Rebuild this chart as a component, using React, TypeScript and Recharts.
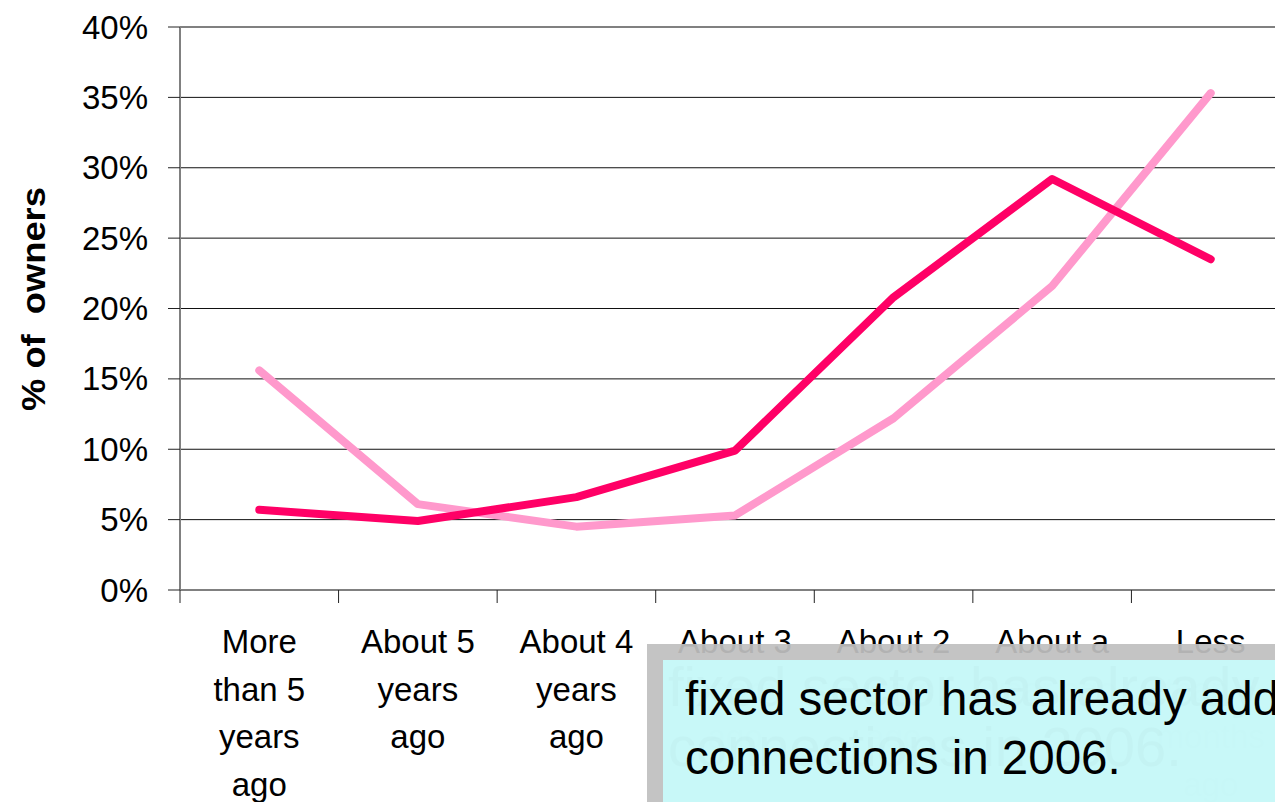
import { CartesianGrid, Line, LineChart, ReferenceLine, XAxis, YAxis } from "recharts";

const categories = [
  ["More", "than 5", "years", "ago"],
  ["About 5", "years", "ago"],
  ["About 4", "years", "ago"],
  ["About 3", "years", "ago"],
  ["About 2", "years", "ago"],
  ["About a", "year ago"],
  ["Less", "than 6", "months", "ago"]
];

const seriesA = [5.7, 4.9, 6.6, 9.9, 20.8, 29.2, 23.5];
const seriesB = [15.6, 6.1, 4.5, 5.3, 12.2, 21.6, 35.3];

const yTicks = [0, 5, 10, 15, 20, 25, 30, 35, 40];
const xBounds = [0, 1, 2, 3, 4, 5, 6, 7];

const data = categories.map((c, i) => ({
  pos: i + 0.5,
  a: seriesA[i],
  b: seriesB[i]
}));

const FONT = "'Liberation Sans', Arial, sans-serif";
const STEP = (1290 - 180) / 7;

const XTick = (props: any) => {
  const { x, y, payload } = props;
  const lines = categories[payload.value];
  if (!lines) return <g />;
  return (
    <text
      x={x + STEP / 2}
      y={y + 48}
      textAnchor="middle"
      fontFamily={FONT}
      fontSize={33}
      fill="#000"
    >
      {lines.map((l, i) => (
        <tspan key={i} x={x + STEP / 2} dy={i === 0 ? 0 : 47.5}>
          {l}
        </tspan>
      ))}
    </text>
  );
};

const YTick = (props: any) => {
  const { x, y, payload } = props;
  return (
    <text
      x={x}
      y={y}
      textAnchor="end"
      dominantBaseline="central"
      fontFamily={FONT}
      fontSize={33}
      fill="#000"
    >
      {payload.value}%
    </text>
  );
};

export default function App() {
  return (
    <div style={{ position: "absolute", left: 0, top: 0, width: 1275, height: 802, overflow: "hidden", background: "#fff" }}>
      <LineChart width={1300} height={802} data={data} margin={{ top: 27, right: 10, bottom: 0, left: 0 }}>
        <CartesianGrid vertical={false} stroke="#111" strokeWidth={1} />
        <ReferenceLine y={40} stroke="#808080" strokeWidth={2} />
        <XAxis
          dataKey="pos"
          type="number"
          domain={[0, 7]}
          ticks={xBounds}
          tick={<XTick />}
          tickSize={13}
          height={212}
          interval={0}
          stroke="#808080"
          strokeWidth={2}
          tickLine={{ stroke: "#222", strokeWidth: 1 }}
        />
        <YAxis
          domain={[0, 40]}
          ticks={yTicks}
          tick={<YTick />}
          tickSize={12}
          tickMargin={20}
          width={180}
          interval={0}
          stroke="#808080"
          strokeWidth={2}
          tickLine={{ stroke: "#222", strokeWidth: 1 }}
        />
        <Line
          dataKey="b"
          stroke="#FF99CC"
          strokeWidth={8}
          dot={false}
          isAnimationActive={false}
          strokeLinejoin="round"
          strokeLinecap="round"
        />
        <Line
          dataKey="a"
          stroke="#FF0066"
          strokeWidth={8}
          dot={false}
          isAnimationActive={false}
          strokeLinejoin="round"
          strokeLinecap="round"
        />
      </LineChart>

      {/* y axis title */}
      <svg width={80} height={802} style={{ position: "absolute", left: 0, top: 0 }}>
        <text
          transform="translate(45,299) rotate(-90) scale(1.1,1)"
          textAnchor="middle"
          fontFamily={FONT}
          fontSize={33}
          fontWeight="bold"
          fill="#000"
          style={{ whiteSpace: "pre" }}
        >
          % of  owners
        </text>
      </svg>

      {/* overlapping text box */}
      <svg width={1275} height={802} style={{ position: "absolute", left: 0, top: 0, pointerEvents: "none" }}>
        <rect x={647} y={644} width={700} height={200} fill="#BFBFBF" opacity={0.93} />
        <rect x={663} y={660} width={700} height={200} fill="#C8FAFA" opacity={0.96} />
        <g fontFamily={FONT} fill="#000" opacity={0.015} fontSize={56}>
          <text x={668} y={706}>fixed sector has already added</text>
          <text x={668} y={766}>connections in 2006.</text>
        </g>
        <g fontFamily={FONT} fill="#000" fontSize={47.5}>
          <text x={685} y={715}>fixed sector has already added</text>
          <text x={685} y={774}>connections in 2006.</text>
        </g>
      </svg>
    </div>
  );
}
